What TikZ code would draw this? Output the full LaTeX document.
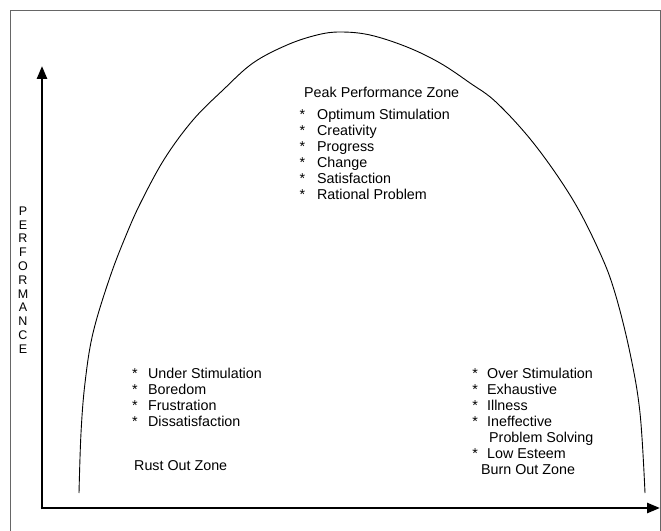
\documentclass[tikz,border=0pt]{standalone}
\usepackage{fontspec}
\setmainfont{Liberation Sans}
\usetikzlibrary{arrows.meta}
\begin{document}
\begin{tikzpicture}[x=1bp,y=-1bp,
  txt/.style={anchor=base west,inner sep=0pt,font=\fontsize{14.3bp}{16bp}\selectfont},
  axis/.style={line width=2.6bp,-{Triangle[width=10bp,length=13bp]}},
  frame/.style={draw=black!60,line width=0.9bp},
  arch/.style={draw=black,line width=0.9bp}]
\useasboundingbox (0,0) rectangle (661,531);
\fill[white] (0,0) rectangle (661,531);
% frame
\draw[frame] (10,531) -- (10,10) -- (660,10) -- (660,531);
% axes
\coordinate (origin) at (42,508);
\coordinate (ytip) at (42,66);
\coordinate (xtip) at (660,508);
\draw[axis] ([yshift=-1.3bp]origin) -- (ytip);
\draw[axis] ([xshift=-1.3bp]origin) -- (xtip);
% arch curve
\draw[arch] plot[smooth,tension=0.6] coordinates {
 (79,493) (81,433) (85,383) (93,333) (110,277) (127,233) (142,200) (165,158)
 (193,120) (223,90) (253,63) (287,45) (317,35) (340,32) (370,35) (407,47)
 (440,63) (470,83) (497,103) (535,145) (573,200) (600,253) (615,293)
 (630,353) (640,413) (645,493)};
% axis label
\node[anchor=north,inner sep=0pt,align=center,font=\fontsize{12.5bp}{13.8bp}\selectfont] (perf) at (23,206.5)
 {P\\E\\R\\F\\O\\R\\M\\A\\N\\C\\E};
% peak zone
\node[txt] (peak) at (304,98) {Peak Performance Zone};
\node[txt] (p1) at (299.5,120) {*\hspace{11.9bp}Optimum Stimulation};
\node[txt] (p2) at (299.5,136) {*\hspace{11.9bp}Creativity};
\node[txt] (p3) at (299.5,152) {*\hspace{11.9bp}Progress};
\node[txt] (p4) at (299.5,168) {*\hspace{11.9bp}Change};
\node[txt] (p5) at (299.5,184) {*\hspace{11.9bp}Satisfaction};
\node[txt] (p6) at (299.5,200) {*\hspace{11.9bp}Rational Problem};
% rust out zone
\node[txt] (l1) at (132,378) {*\hspace{10.4bp}Under Stimulation};
\node[txt] (l2) at (132,394) {*\hspace{10.4bp}Boredom};
\node[txt] (l3) at (132,410) {*\hspace{10.4bp}Frustration};
\node[txt] (l4) at (132,426) {*\hspace{10.4bp}Dissatisfaction};
\node[txt] (rust) at (134,470) {Rust Out Zone};
% burn out zone
\node[txt] (r1) at (472.2,378) {*\hspace{9.2bp}Over Stimulation};
\node[txt] (r2) at (472.2,394) {*\hspace{9.2bp}Exhaustive};
\node[txt] (r3) at (472.2,410) {*\hspace{9.2bp}Illness};
\node[txt] (r4) at (472.2,426) {*\hspace{9.2bp}Ineffective};
\node[txt] (r5) at (489,442) {Problem Solving};
\node[txt] (r6) at (472.2,458) {*\hspace{9.2bp}Low Esteem};
\node[txt] (burn) at (481,474) {Burn Out Zone};
\end{tikzpicture}
\end{document}
